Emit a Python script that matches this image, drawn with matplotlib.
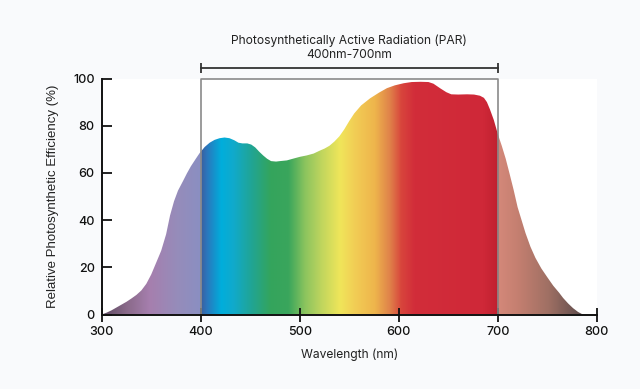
import numpy as np
import matplotlib.pyplot as plt
from matplotlib.colors import LinearSegmentedColormap
from matplotlib.patches import Polygon

plt.rcParams['font.family'] = ['Inter', 'DejaVu Sans']

# Relative photosynthetic efficiency curve
wavelength = [300, 305, 310, 315, 320, 325, 330, 335, 340, 345, 350, 355, 360,
              365, 369, 373, 377, 382, 386, 390, 395, 399, 404, 409, 414, 419,
              424, 429, 434, 438, 442, 447, 451, 455, 459, 463, 467, 471, 476,
              480, 487, 493, 500, 507, 514, 520, 525, 530, 535, 540, 545, 550,
              555, 562, 571, 580, 588, 596, 605, 613, 622, 630, 635, 642, 648,
              653, 660, 669, 676, 682, 686, 689, 692, 696, 700, 704, 708, 712,
              716, 720, 724, 728, 733, 738, 744, 750, 756, 762, 766, 771, 776,
              781, 785, 787]
efficiency = [0, 0.8, 1.8, 3, 4.2, 5.4, 6.8, 8.3, 10.2, 13, 17, 22, 27,
              34, 42, 48, 52.5, 56.5, 59.8, 62.8, 66, 68.5, 71, 72.8, 74, 74.7,
              75, 74.7, 73.8, 72.8, 72.5, 72.5, 72, 70.8, 69, 67.4, 66, 65, 64.8,
              65, 65.3, 66, 66.8, 67.4, 68.2, 69.4, 70.3, 71.5, 73.3, 75.5, 78.5, 82,
              85.2, 88.6, 91.6, 94, 95.9, 97.1, 98, 98.5, 98.6, 98.5, 97.8, 95.8, 94.2,
              93.3, 93.2, 93.3, 93.2, 92.7, 91.8, 90, 87, 82.4, 76.5, 71.5, 66, 59.5,
              52.8, 45.5, 40, 34.5, 28.7, 24, 19.5, 15.8, 12.2, 9.2, 7, 4.7, 2.7,
              1.1, 0.2, 0]

x_ticks = [300, 400, 500, 600, 700, 800]
y_ticks = [0, 20, 40, 60, 80, 100]
par_range = [400, 700]
title_lines = ["Photosynthetically Active Radiation (PAR)", "400nm-700nm"]
x_label = "Wavelength (nm)"
y_label = "Relative Photosynthetic Efficiency (%)"

# Spectrum colour stops (wavelength, colour)
stop_wl = [300, 325, 348, 375, 399.5, 400, 406, 420, 432, 450, 470, 488, 505,
           520, 540, 555, 575, 590, 602, 615, 685, 699.5, 700, 720, 750, 785, 800]
stop_col = ['#5e4a62', '#8a6a8a', '#a67fae', '#968cba', '#8a8fc2', '#3a5fa0',
            '#2a78bd', '#00aedc', '#10aacc', '#20a596', '#34a45c', '#3aa65c',
            '#8cc45e', '#bcd45e', '#f0e65a', '#f2cd55', '#eeb54c', '#e0834a',
            '#d8453c', '#d22d3a', '#cf2838', '#c0202f', '#d4887a', '#c47f70',
            '#a07064', '#5e4c4c', '#5e4c4c']

fig = plt.figure(figsize=(6.4, 3.89), dpi=100, facecolor='#f9fafc')
ax = fig.add_axes([0.159, 0.1915, 0.7735, 0.6067])
ax.set_facecolor('white')
ax.set_xlim(300, 800)
ax.set_ylim(0, 100)

cmap = LinearSegmentedColormap.from_list(
    'spec', [((w - 300) / 500, c) for w, c in zip(stop_wl, stop_col)], N=1024)
grad = np.linspace(0, 1, 1000).reshape(1, -1)
im = ax.imshow(grad, extent=(300, 800, 0, 100), aspect='auto', cmap=cmap,
               origin='lower', interpolation='bilinear', zorder=1)
poly = Polygon(np.column_stack([wavelength, efficiency]), closed=True,
               facecolor='none', edgecolor='none')
ax.add_patch(poly)
im.set_clip_path(poly)

# PAR box
ax.plot([par_range[0], par_range[0], par_range[1], par_range[1]], [0, 100, 100, 0],
        color='#8a8a8a', lw=1.2, zorder=3, clip_on=False)

# bracket above
ax.plot(par_range, [104.3, 104.3], color='#333333', lw=1.3, clip_on=False,
        marker='|', markersize=7, markeredgewidth=1.3)
ax.text(550, 115.9, title_lines[0], ha='center', va='center', fontsize=8.7,
        color='#222222', clip_on=False)
ax.text(550, 110.0, title_lines[1], ha='center', va='center', fontsize=8.7,
        color='#222222', clip_on=False)

for s in ['top', 'right']:
    ax.spines[s].set_visible(False)
for s in ['left', 'bottom']:
    ax.spines[s].set_linewidth(1.4)
    ax.spines[s].set_color('#111111')
    ax.spines[s].set_zorder(4)

ax.set_xticks(x_ticks)
ax.set_yticks(y_ticks)
ax.tick_params(axis='y', direction='in', length=7, width=1.3, pad=5,
               labelsize=9, colors='#111111')
ax.tick_params(axis='x', direction='inout', length=10, width=1.3, pad=3,
               labelsize=9, colors='#111111')
for lab in ax.get_xticklabels() + ax.get_yticklabels():
    lab.set_fontweight('medium')

ax.set_xlabel(x_label, fontsize=8.7, color='#222222', labelpad=8)
ax.set_ylabel(y_label, fontsize=9.5, color='#222222', labelpad=10,
              family=['Liberation Sans', 'DejaVu Sans'])

fig.savefig('out.png', dpi=100, facecolor=fig.get_facecolor())
